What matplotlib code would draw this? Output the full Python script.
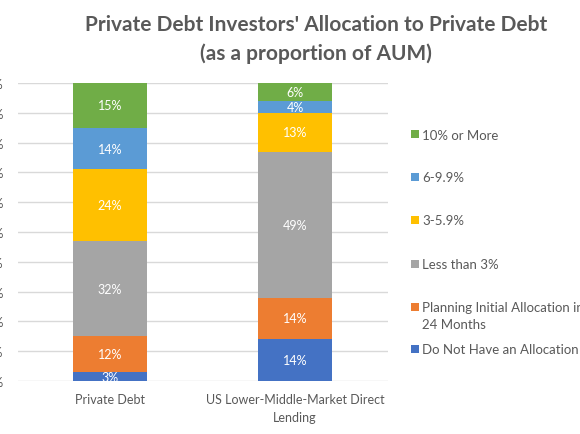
import matplotlib.pyplot as plt
from matplotlib.patches import Rectangle
import numpy as np

plt.rcParams["font.family"] = ["Lato", "DejaVu Sans"]

# data (percent of respondents)
categories = ["Private Debt", "US Lower-Middle-Market Direct\nLending"]
series_names = [
    "Do Not Have an Allocation",
    "Planning Initial Allocation in\n24 Months",
    "Less than 3%",
    "3-5.9%",
    "6-9.9%",
    "10% or More",
]
series_values = [
    [3, 14],
    [12, 14],
    [32, 49],
    [24, 13],
    [14, 4],
    [15, 6],
]
colors = ["#4472C4", "#ED7D31", "#A5A5A5", "#FFC000", "#5B9BD5", "#70AD47"]
y_ticks = np.arange(0, 101, 10)

text_gray = "#595959"
W, H = 580, 435

fig = plt.figure(figsize=(5.8, 4.35), dpi=100)
ax = fig.add_axes([17.5 / W, 1 - 382 / H, 370 / W, 298 / H])

x = np.arange(len(categories))
bottom = np.zeros(len(categories))
for name, vals, col in zip(series_names, series_values, colors):
    vals = np.array(vals, dtype=float)
    ax.bar(x, vals, 0.405, bottom=bottom, color=col, label=name, zorder=3)
    for xi, v, b in zip(x, vals, bottom):
        ax.text(xi, b + v / 2, f"{v:.0f}%", ha="center", va="center",
                color="white", fontsize=9, zorder=4)
    bottom += vals

ax.set_xlim(-0.5, 1.5)
ax.set_ylim(0, 100)
ax.set_yticks(y_ticks)
ax.set_yticklabels([f"{t}%" for t in y_ticks])
ax.set_xticks(x)
ax.set_xticklabels(categories, linespacing=1.55)
ax.tick_params(axis="both", length=0, colors=text_gray, labelsize=9)
ax.tick_params(axis="x", pad=9)
ax.tick_params(axis="y", pad=10)
ax.yaxis.grid(True, color="#D9D9D9", linewidth=1, zorder=0)
for s in ax.spines.values():
    s.set_visible(False)

fig.suptitle("Private Debt Investors' Allocation to Private Debt\n(as a proportion of AUM)",
             x=0.545, y=0.965, fontsize=15, fontweight="bold", color=text_gray,
             linespacing=1.5)

# legend drawn by hand, top to bottom, Excel-like spacing
legend_rows_y = [135, 178, 221, 265, 308, 350]
for name, col, yc in zip(series_names[::-1], colors[::-1], legend_rows_y):
    fig.patches.append(Rectangle((411 / W, 1 - (yc + 4) / H), 8 / W, 8 / H,
                                 facecolor=col, edgecolor="none",
                                 transform=fig.transFigure))
    fig.text(422 / W, 1 - (yc - 5.5) / H, name, ha="left", va="top",
             fontsize=9.5, color=text_gray, linespacing=1.45)

fig.savefig("out.png", dpi=100)
